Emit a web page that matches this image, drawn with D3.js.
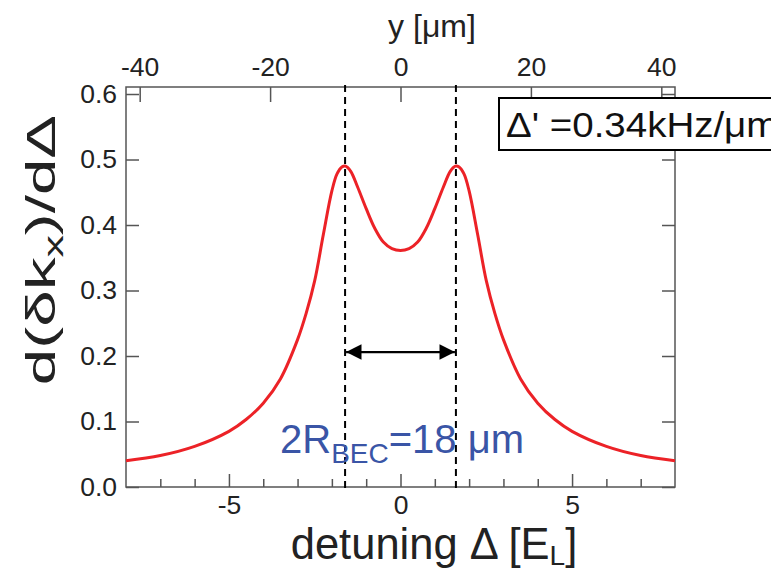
<!DOCTYPE html>
<html>
<head>
<meta charset="utf-8">
<script src="https://cdn.jsdelivr.net/npm/d3@7/dist/d3.min.js"></script>
<style>
  html, body { margin: 0; padding: 0; background: #fff; }
  svg { display: block; font-family: "Liberation Sans", Arial, sans-serif; }
</style>
</head>
<body>
<svg id="chart" width="771" height="572"></svg>
<script>
// Differential response d(δk_x)/dΔ versus detuning Δ (in units of E_L)
const detuning = [-8, -7, -6, -5, -4.5, -4, -3.5, -3, -2.75, -2.5, -2.25, -2, -1.85, -1.7, -1.6,
                  -1.45, -1.25, -1, -0.75, -0.5, -0.25, 0, 0.25, 0.5, 0.75, 1, 1.25, 1.45,
                  1.6, 1.7, 1.85, 2, 2.25, 2.5, 2.75, 3, 3.5, 4, 4.5, 5, 6, 7, 8];
const response = [0.040, 0.048, 0.062, 0.085, 0.103, 0.128, 0.165, 0.225, 0.265, 0.315, 0.385, 0.452, 0.478, 0.489, 0.490,
                  0.482, 0.458, 0.425, 0.395, 0.374, 0.364, 0.361, 0.364, 0.374, 0.395, 0.425, 0.458, 0.482,
                  0.490, 0.489, 0.478, 0.452, 0.385, 0.315, 0.265, 0.225, 0.165, 0.128, 0.103, 0.085, 0.062, 0.048, 0.040];

// Axis ticks
const detuningTicks = [-5, 0, 5];
const detuningMinor = [-7, -6, -4, -3, -2, -1, 1, 2, 3, 4, 6, 7];
const responseTicks = [0.0, 0.1, 0.2, 0.3, 0.4, 0.5, 0.6];
const positionTicks = [-40, -20, 0, 20, 40];

// Condensate edges (position in µm), arrow level and annotations
const condensateEdges = [-8.5, 8.5];
const arrowLevel = 0.206;
const gradientLabel = "Δ' =0.34kHz/μm";

const svg = d3.select("#chart");
const plotLeft = 126, plotRight = 675, plotTop = 87, plotBottom = 487;

const x = d3.scaleLinear().domain([-8, 8]).range([plotLeft, plotRight]);
const y = d3.scaleLinear().domain([0, 0.6107]).range([plotBottom, plotTop]);
// Upper axis: real-space position, 0.34 kHz/µm gradient
const xTop = d3.scaleLinear().domain([-42.1, 42.1]).range([plotLeft, plotRight]);

const axisColor = "#555";
const labelColor = "#222";
const plainNumber = d => String(d);

function styleAxis(g) {
  g.select(".domain").remove();
  g.selectAll(".tick line").attr("stroke", axisColor).attr("stroke-width", 1.5);
  g.selectAll(".tick text").attr("fill", labelColor).attr("font-size", 26.5)
    .attr("font-family", "Liberation Sans, Arial, sans-serif");
}

// Bottom axis: major + minor ticks pointing inward
svg.append("g").attr("transform", `translate(0,${plotBottom})`)
  .call(d3.axisBottom(x).tickValues(detuningMinor).tickSize(-8).tickFormat(""))
  .call(styleAxis);
svg.append("g").attr("transform", `translate(0,${plotBottom})`)
  .call(d3.axisBottom(x).tickValues(detuningTicks).tickSize(-13).tickPadding(8)
    .tickFormat(plainNumber))
  .call(styleAxis);

// Top axis
svg.append("g").attr("transform", `translate(0,${plotTop})`)
  .call(d3.axisTop(xTop).tickValues(positionTicks).tickSize(-15).tickPadding(11)
    .tickFormat(plainNumber))
  .call(styleAxis);

// Left and right axes
svg.append("g").attr("transform", `translate(${plotLeft},0)`)
  .call(d3.axisLeft(y).tickValues(responseTicks).tickSize(-13).tickPadding(9)
    .tickFormat(d3.format(".1f")))
  .call(styleAxis);
svg.append("g").attr("transform", `translate(${plotRight},0)`)
  .call(d3.axisRight(y).tickValues(responseTicks).tickSize(-13).tickFormat(""))
  .call(styleAxis);

// Frame
svg.append("rect")
  .attr("x", plotLeft).attr("y", plotTop)
  .attr("width", plotRight - plotLeft).attr("height", plotBottom - plotTop)
  .attr("fill", "none").attr("stroke", axisColor).attr("stroke-width", 1.5);

// Response curve
const line = d3.line()
  .x((d, i) => x(detuning[i]))
  .y(d => y(d))
  .curve(d3.curveCatmullRom.alpha(0.5));
svg.append("path")
  .datum(response)
  .attr("d", line)
  .attr("fill", "none")
  .attr("stroke", "#ec2227")
  .attr("stroke-width", 3);

// Dashed markers at the condensate edges
svg.selectAll(".edge").data(condensateEdges).enter().append("line")
  .attr("class", "edge")
  .attr("x1", d => xTop(d)).attr("x2", d => xTop(d))
  .attr("y1", plotTop - 2).attr("y2", plotBottom + 4)
  .attr("stroke", "#000").attr("stroke-width", 2)
  .attr("stroke-dasharray", "7,5");

// Double-headed arrow between the edges
const defs = svg.append("defs");
["start", "end"].forEach(k => {
  defs.append("marker")
    .attr("id", "arrow-" + k)
    .attr("viewBox", "0 0 10 10")
    .attr("refX", 10).attr("refY", 5)
    .attr("markerWidth", 8).attr("markerHeight", 7)
    .attr("markerUnits", "strokeWidth")
    .attr("orient", k === "start" ? "auto-start-reverse" : "auto")
    .append("path").attr("d", "M0,0 L10,5 L0,10 Z").attr("fill", "#000");
});
svg.append("line")
  .attr("x1", xTop(condensateEdges[0]) + 1).attr("x2", xTop(condensateEdges[1]) - 1)
  .attr("y1", y(arrowLevel)).attr("y2", y(arrowLevel))
  .attr("stroke", "#000").attr("stroke-width", 2.2)
  .attr("marker-start", "url(#arrow-start)")
  .attr("marker-end", "url(#arrow-end)");

// Condensate size label
const sizeLabel = svg.append("text")
  .attr("x", 280).attr("y", 453)
  .attr("fill", "#3a55a6").attr("font-size", 40);
sizeLabel.append("tspan").text("2R");
sizeLabel.append("tspan").attr("font-size", 28).attr("dy", 10).text("BEC");
sizeLabel.append("tspan").attr("dy", -10).text("=18 μm");

// Gradient box
svg.append("rect")
  .attr("x", 499).attr("y", 98).attr("width", 300).attr("height", 52)
  .attr("fill", "#fff").attr("stroke", "#000").attr("stroke-width", 2);
svg.append("text")
  .attr("transform", "translate(506,137) scale(1.1,1)")
  .attr("fill", "#111").attr("font-size", 35)
  .text(gradientLabel);

// Axis titles
svg.append("text")
  .attr("x", 432).attr("y", 37).attr("text-anchor", "middle")
  .attr("fill", labelColor).attr("font-size", 32)
  .text("y [μm]");

const xTitle = svg.append("text")
  .attr("x", 434).attr("y", 559).attr("text-anchor", "middle")
  .attr("fill", labelColor).attr("font-size", 43.5);
xTitle.append("tspan").text("detuning Δ [E");
xTitle.append("tspan").attr("font-size", 28).attr("dy", 6).text("L");
xTitle.append("tspan").attr("dy", -6).text("]");

const yTitle = svg.append("text")
  .attr("transform", "translate(55,250) rotate(-90) scale(1.6,1)")
  .attr("text-anchor", "middle")
  .attr("fill", labelColor).attr("font-size", 41);
yTitle.append("tspan").text("d(δk");
yTitle.append("tspan").attr("font-size", 28).attr("dy", 8).text("x");
yTitle.append("tspan").attr("dy", -8).text(")/dΔ");
</script>
</body>
</html>
